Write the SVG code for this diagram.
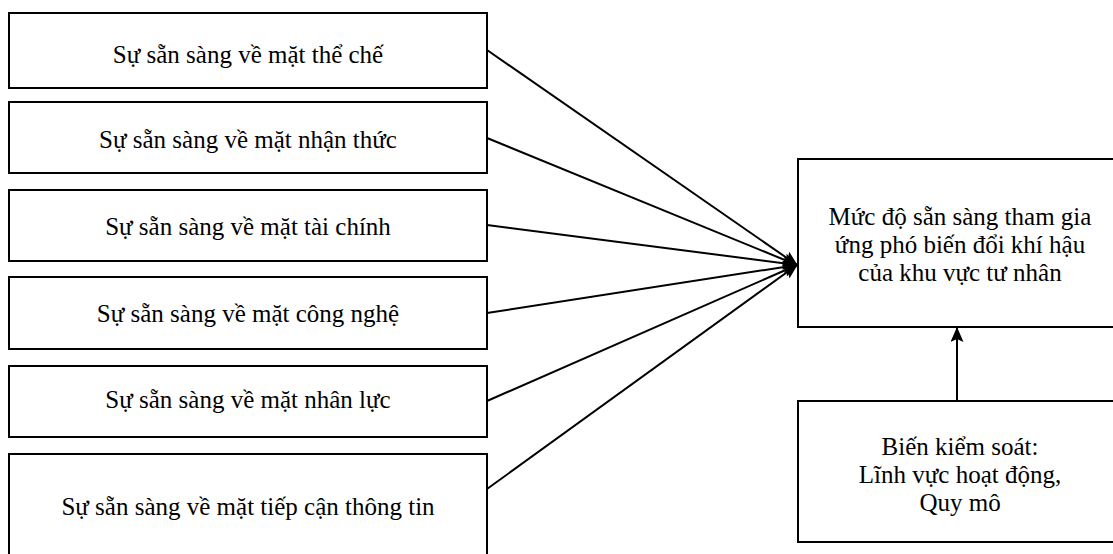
<svg xmlns="http://www.w3.org/2000/svg" width="1113" height="554" viewBox="0 0 1113 554">
<style>
.box{fill:#fff;stroke:#000;stroke-width:2}
.t{font-family:"Liberation Serif","Times New Roman",serif;font-size:25px;fill:#000;text-anchor:middle}
.c{stroke:#000;stroke-width:2;fill:none;marker-end:url(#ah)}
</style>
<defs>
<marker id="ah" viewBox="0 0 15 13" refX="14" refY="6.5" markerWidth="15" markerHeight="13" orient="auto" markerUnits="userSpaceOnUse">
<path d="M0,0 L15,6.5 L0,13 L3,6.5 z" fill="#000"/>
</marker>
</defs>
<rect width="1113" height="554" fill="#fff"/>
<g id="n1"><rect class="box" x="9" y="13" width="478" height="75"/><text class="t" x="248" y="63">Sự sẵn sàng về mặt thể chế</text></g>
<g id="n2"><rect class="box" x="9" y="102" width="478" height="71"/><text class="t" x="248" y="148">Sự sẵn sàng về mặt nhận thức</text></g>
<g id="n3"><rect class="box" x="9" y="190" width="478" height="71"/><text class="t" x="248" y="235">Sự sẵn sàng về mặt tài chính</text></g>
<g id="n4"><rect class="box" x="9" y="277" width="478" height="72"/><text class="t" x="248" y="322">Sự sẵn sàng về mặt công nghệ</text></g>
<g id="n5"><rect class="box" x="9" y="366" width="478" height="71"/><text class="t" x="248" y="408">Sự sẵn sàng về mặt nhân lực</text></g>
<g id="n6"><rect class="box" x="9" y="454" width="478" height="120"/><text class="t" x="248" y="515">Sự sẵn sàng về mặt tiếp cận thông tin</text></g>
<g id="target"><rect class="box" x="798" y="159" width="324" height="168"/>
<text class="t" x="960" y="225">Mức độ sẵn sàng tham gia</text>
<text class="t" x="960" y="253">ứng phó biến đổi khí hậu</text>
<text class="t" x="960" y="281">của khu vực tư nhân</text></g>
<g id="control"><rect class="box" x="798" y="401" width="324" height="141"/>
<text class="t" x="960" y="455">Biến kiểm soát:</text>
<text class="t" x="960" y="483">Lĩnh vực hoạt động,</text>
<text class="t" x="960" y="511">Quy mô</text></g>
<g id="connectors">
<line class="c" x1="487" y1="50" x2="797" y2="265"/>
<line class="c" x1="487" y1="138" x2="797" y2="265"/>
<line class="c" x1="487" y1="225" x2="797" y2="265"/>
<line class="c" x1="487" y1="313" x2="797" y2="265"/>
<line class="c" x1="487" y1="401" x2="797" y2="265"/>
<line class="c" x1="487" y1="489" x2="797" y2="265"/>
<line class="c" x1="957" y1="401" x2="957" y2="328"/>
</g>
</svg>
